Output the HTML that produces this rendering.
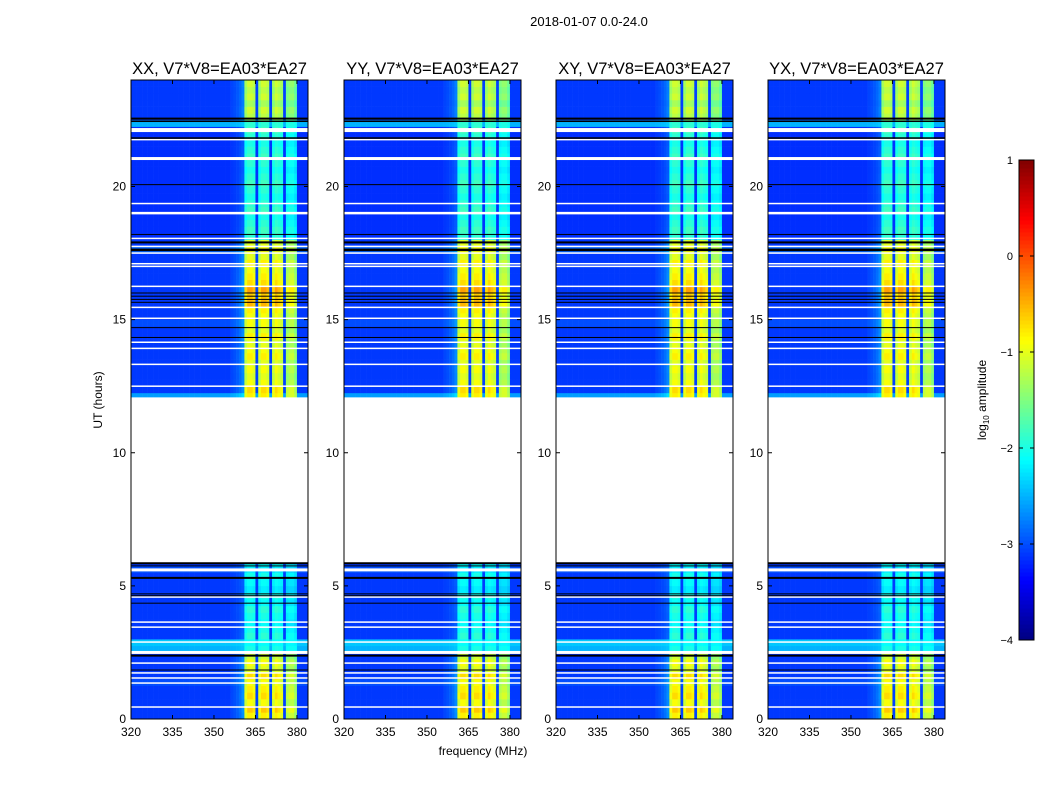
<!DOCTYPE html>
<html><head><meta charset="utf-8"><style>
body{margin:0;background:#fff;font-family:"Liberation Sans",sans-serif;}
svg text{font-family:"Liberation Sans",sans-serif;}
</style></head><body>
<svg id="fig" width="1050" height="800" xmlns="http://www.w3.org/2000/svg">
<text x="589" y="26" font-size="13" text-anchor="middle">2018-01-07 0.0-24.0</text>
<text x="483" y="755" font-size="12" text-anchor="middle">frequency (MHz)</text>
<text x="102" y="400" font-size="12" text-anchor="middle" transform="rotate(-90 102 400)">UT (hours)</text>
<text x="986" y="400" font-size="12" text-anchor="middle" transform="rotate(-90 986 400)">log<tspan font-size="8" dy="3">10</tspan><tspan dy="-3"> amplitude</tspan></text>
</svg>
<script>
const panelNames=["XX, V7*V8=EA03*EA27","YY, V7*V8=EA03*EA27","XY, V7*V8=EA03*EA27","YX, V7*V8=EA03*EA27"];
const panelLeft=[131,344,556,768];
const xTicks=[320,335,350,365,380];
const yTicks=[0,5,10,15,20];
const cbTicks=[1,0,-1,-2,-3,-4];
const bandLevel=[-0.8,-0.6,-0.9,-0.7,-0.8,-0.9,-0.7,-1.0,-0.9,-1.1,
-2.0,-2.1,-1.9,-2.0,-2.1,-2.0,-1.9,-2.1,-2.0,-2.2,-2.1,-2.0,-2.2,-2.1,
null,null,null,null,null,null,null,null,null,null,null,null,null,null,null,null,null,null,null,null,null,null,null,null,
-0.8,-0.7,-0.9,-1.0,-0.9,-1.0,-0.8,-0.9,-1.0,-0.8,-1.0,-0.9,-0.9,-0.8,-0.5,-0.6,-0.4,-0.7,-0.8,-0.9,-0.8,-1.0,-0.9,-1.0,
-1.9,-1.8,-1.9,-2.0,-1.8,-1.9,-2.0,-1.9,-1.8,-1.9,-2.0,-1.9,-1.8,-1.9,-2.0,-1.9,-1.8,-1.9,
-1.2,-1.1,-1.3,-1.1,-1.2,-1.1];
const bgLevel=[-3.1,-3.1,-3.1,-3.1,-3.1,-3.0,-3.1,-3.1,-3.1,-3.1,
-2.5,-2.4,-3.1,-3.1,-3.1,-3.1,-3.1,-3.1,-3.1,-3.1,-3.1,-3.1,-3.0,-3.1,
null,null,null,null,null,null,null,null,null,null,null,null,null,null,null,null,null,null,null,null,null,null,null,null,
-2.6,-3.1,-3.1,-3.1,-3.1,-3.1,-3.1,-3.1,-3.1,-3.1,-3.1,-3.0,-3.1,-3.1,-3.1,-3.1,-3.1,-3.1,-3.1,-3.1,-3.1,-3.1,-2.9,-3.1,
-3.15,-3.15,-3.15,-3.15,-3.15,-3.15,-3.15,-3.15,-3.15,-3.15,-3.15,-3.15,-3.15,-3.15,-3.15,-3.15,-3.15,-2.5,
-3.1,-3.1,-3.1,-3.1,-3.1,-3.1];
const chanWeight=[0,0,0,0,0,0,0,0,0,0,0,0,0,0,0,0,0,0,0,0,0,0,0,0,0,0,0,0,0,0,0,0,0,0,0,0,0.03,0.05,0.08,0.12,0.18,
0.9,1,1,0.95,0.02,0.9,1,1,0.95,0.02,0.9,1,0.95,0.9,0.02,0.8,0.85,0.85,0.75,0,0,0,0];
const gapHours=[5.85,12.08];
const whiteLines=[[22.12,4],[21.76,1.5],[21.05,3],[19.36,1.5],[19.0,2.5],[18.05,1.5],[17.75,1.5],[17.5,1.5],[17.1,1.5],[17.0,1.5],[16.25,1.5],[15.46,1.5],[15.05,1.5],[14.15,1.5],[13.92,1.5],[13.32,1.5],[12.5,1.5],[5.6,3],[4.58,1.5],[3.64,1.5],[3.45,1.5],[2.89,1.5],[2.5,3],[2.1,1.5],[1.73,1.5],[1.54,1.5],[1.35,1.5],[0.45,1.5]];
const blackLines=[[22.55,2],[22.45,1.5],[21.82,1.5],[20.07,1],[18.2,1],[17.9,2],[17.62,2.5],[16.0,1],[15.88,1],[15.76,1],[15.65,1],[14.7,1],[14.33,1],[5.85,2],[5.75,1],[5.3,2],[4.7,1],[4.63,1],[4.35,1],[2.38,2],[1.84,1]];

const svg=document.getElementById('fig');
const NS='http://www.w3.org/2000/svg';
const top0=80,bot0=719,pw=177;
const fy=h=>bot0-(h/24)*(bot0-top0);
const fx=(left,f)=>left+(f-320)/64*pw;
function jet(v){let t=Math.max(0,Math.min(1,(v+4)/5));
 const c=x=>Math.round(255*Math.max(0,Math.min(1,x)));
 return `rgb(${c(1.5-Math.abs(4*t-3))},${c(1.5-Math.abs(4*t-2))},${c(1.5-Math.abs(4*t-1))})`;}
function mk(tag,attrs,parent){const e=document.createElementNS(NS,tag);for(const k in attrs)e.setAttribute(k,attrs[k]);(parent||svg).appendChild(e);return e;}

panelLeft.forEach((left,p)=>{
 const g=mk('g',{});
 
 
 for(let r=0;r<bandLevel.length;r++){
  if(bandLevel[r]===null)continue;
  const y1=fy(r*0.25),y0=fy((r+1)*0.25);
  for(let c=0;c<chanWeight.length;c++){
   const v=bgLevel[r]+chanWeight[c]*(bandLevel[r]-bgLevel[r]);
   const x0=fx(left,320+c),x1=fx(left,321+c);
   const rc=mk('rect',{x:x0.toFixed(2),y:y0.toFixed(2),width:(x1-x0+0.3).toFixed(2),height:(y1-y0+0.3).toFixed(2),fill:jet(v)},g);
   
   
  }
 }
 const gp=mk('rect',{x:left,y:fy(gapHours[1]),width:pw,height:fy(gapHours[0])-fy(gapHours[1]),fill:'#fff'},g);
 
 
 whiteLines.forEach(([h,w])=>{const l=mk('rect',{x:left,y:fy(h)-w/2,width:pw,height:w,fill:'#fff'},g);
  
  });
 blackLines.forEach(([h,w])=>{const l=mk('rect',{x:left,y:fy(h)-w/2,width:pw,height:w,fill:'#000'},g);
  
  });
 const fr=mk('rect',{x:left,y:top0,width:pw,height:bot0-top0,fill:'none',stroke:'#000','stroke-width':1});
 
 
 const t=mk('text',{x:left+pw/2,y:74,'font-size':16.5,'text-anchor':'middle'});t.textContent=panelNames[p];
 
 
 xTicks.forEach(f=>{const x=fx(left,f);
  mk('line',{x1:x,x2:x,y1:bot0,y2:bot0-4,stroke:'#000'});mk('line',{x1:x,x2:x,y1:top0,y2:top0+4,stroke:'#000'});
  const tx=mk('text',{x:x,y:bot0+17,'font-size':12,'text-anchor':'middle'});tx.textContent=f;
  
  });
 yTicks.forEach(h=>{const y=fy(h);
  mk('line',{x1:left,x2:left+4,y1:y,y2:y,stroke:'#000'});mk('line',{x1:left+pw,x2:left+pw-4,y1:y,y2:y,stroke:'#000'});
  const ty=mk('text',{x:left-5,y:y+4,'font-size':12,'text-anchor':'end'});ty.textContent=h;
  
  });
});
const cbx=1019,cbw=15,cbt=160,cbb=640;
const cb=mk('g',{});


for(let i=0;i<120;i++){const v=-4+5*(i+0.5)/120;const y=cbb-(i+1)*(cbb-cbt)/120;
 mk('rect',{x:cbx,y:y,width:cbw,height:(cbb-cbt)/120+0.5,fill:jet(v)},cb);}
mk('rect',{x:cbx,y:cbt,width:cbw,height:cbb-cbt,fill:'none',stroke:'#000'},cb);
cbTicks.forEach(v=>{const y=cbb-(v+4)/5*(cbb-cbt);
 mk('line',{x1:cbx+cbw,x2:cbx+cbw-4,y1:y,y2:y,stroke:'#000'},cb);mk('line',{x1:cbx,x2:cbx+4,y1:y,y2:y,stroke:'#000'},cb);
 const t=mk('text',{x:1013,y:y+4,'font-size':11,'text-anchor':'end'},cb);t.textContent=v<0?'\u2212'+(-v):v;
 
 });
</script>
</body></html>
